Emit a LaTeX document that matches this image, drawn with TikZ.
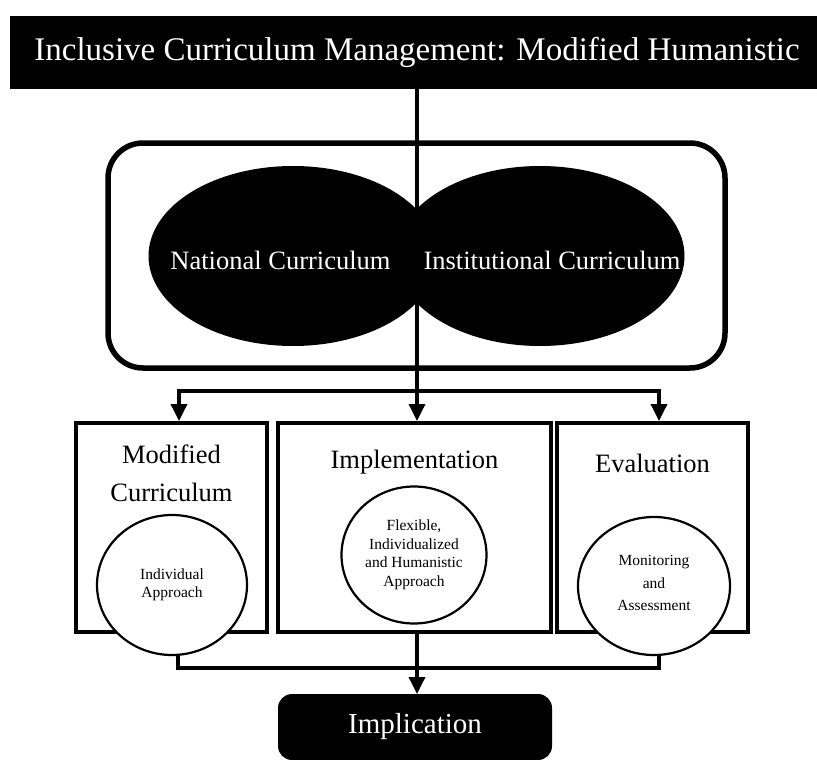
\documentclass[tikz,border=0pt]{standalone}
\usepackage{fontspec}
\setmainfont{Liberation Serif}
\usetikzlibrary{arrows.meta, shapes.geometric}

\begin{document}
\begin{tikzpicture}[x=1pt, y=-1pt,
    blackbox/.style = {fill=black, text=white, inner sep=0pt, outer sep=0pt},
    blob/.style = {ellipse, fill=black, minimum width=289pt, minimum height=180pt, inner sep=0pt},
    wtext/.style = {text=white, font=\fontsize{26.5}{30}\selectfont, inner sep=0pt},
    stagebox/.style = {draw, line width=4pt, inner sep=0pt, minimum height=209pt},
    stagetitle/.style = {font=\fontsize{26.5}{38}\selectfont, align=center, inner sep=0pt},
    bubble/.style = {ellipse, draw, fill=white, line width=2.2pt, inner sep=0pt,
      align=center, font=\fontsize{15.5}{18.5}\selectfont},
    conn/.style = {line width=3.5pt},
    arr/.style = {conn, -{Triangle[width=16pt, length=17pt]}}]
  \useasboundingbox (0,0) rectangle (817,760);

  % top banner
  \node (title) [blackbox, minimum width=814pt, minimum height=73pt,
    font=\fontsize{33}{40}\selectfont] at (417,52.5)
    {Inclusive Curriculum Management: Modified Humanistic};

  % curriculum frame
  \node (frame) [draw, line width=5.5pt, rounded corners=35pt, minimum width=617pt,
    minimum height=225pt] at (416.5,255.5) {};
  \node (nat) [blob] at (293,256) {};
  \node (inst) [blob] at (540,256) {};
  \node (natlab) [wtext] at (280.5,260) {National Curriculum};
  \node (instlab) [wtext] at (552,260) {Institutional Curriculum};

  % three stages
  \node (lbox) [stagebox, minimum width=191pt] at (171.5,527.5) {};
  \node (mbox) [stagebox, minimum width=273pt] at (414.5,527.5) {};
  \node (rbox) [stagebox, minimum width=191pt] at (652.5,527.5) {};
  \node (ltitle) [stagetitle] at (171.5,473) {Modified\\Curriculum};
  \node (mtitle) [stagetitle] at (414.5,462) {Implementation};
  \node (rtitle) [stagetitle] at (652.5,463) {Evaluation};
  \node (lcir) [bubble, minimum width=150pt, minimum height=140pt] at (172,585)
    {Individual\\Approach};
  \node (mcir) [bubble, minimum width=145pt, minimum height=137pt] at (414,555)
    {Flexible,\\Individualized\\and Humanistic\\Approach};
  \node (rcir) [bubble, minimum width=152pt, minimum height=138pt, text depth=6pt,
    font=\fontsize{15.5}{22.5}\selectfont] at (654,586) {Monitoring\\and\\Assessment};

  % outcome
  \node (impl) [blackbox, rounded corners=14pt, minimum width=274pt, minimum height=66pt,
    font=\fontsize{29}{34}\selectfont] at (415,727) {Implication};

  \coordinate (br) at (417,391);
  \coordinate (jn) at (417,668);

  \draw [conn] (title.south -| br) -- (br);
  \draw [arr] (br) -- (br |- mbox.north);
  \draw [arr] (br) -| ([xshift=7.5pt]lbox.north);
  \draw [arr] (br) -| ([xshift=6.5pt]rbox.north);
  \draw [conn] (lcir.-85) |- (jn) -| (rcir.-86);
  \draw [arr] (mbox.south -| jn) -- (impl.north -| jn);
\end{tikzpicture}
\end{document}
